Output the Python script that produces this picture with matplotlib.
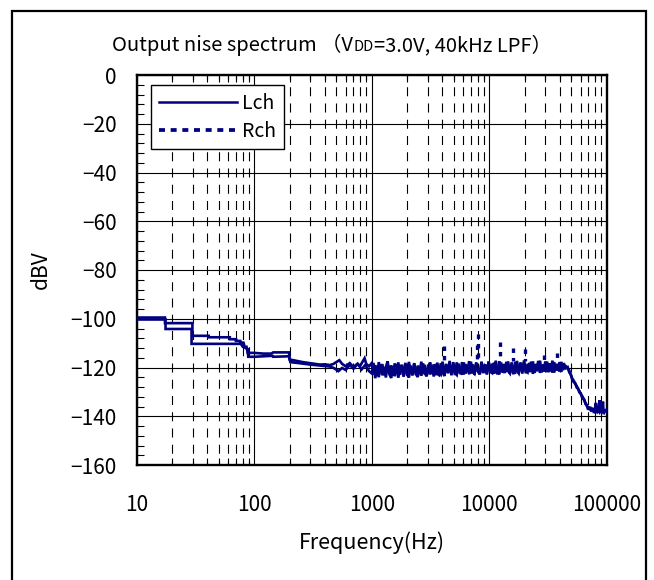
import numpy as np
import matplotlib
matplotlib.use("Agg")
import matplotlib.pyplot as plt
from matplotlib.lines import Line2D
from matplotlib.patches import Rectangle
from matplotlib.ticker import FixedLocator, FixedFormatter, MultipleLocator, NullFormatter

plt.rcParams['font.family'] = ['Noto Sans CJK JP', 'DejaVu Sans']
plt.rcParams['lines.scale_dashes'] = False

NAVY = '#000080'

# ---------------- data ----------------
x_ticks = [10, 100, 1000, 10000, 100000]
x_tick_labels = ['10', '100', '1000', '10000', '100000']
y_ticks = [0, -20, -40, -60, -80, -100, -120, -140, -160]

# Lch, low frequency part (Hz, dBV)
lch_low_f = [10, 17.4, 17.4, 29.8, 29.8, 41, 41, 62, 62, 70, 70, 76, 76, 81, 83, 86, 88, 100,
             120, 140, 145, 198, 200, 215, 244, 260, 298, 330, 362, 400, 440, 470, 506, 530,
             560, 600, 650, 700, 750, 800, 870, 900, 950]
lch_low_db = [-99.5, -99.5, -101.8, -101.8, -107.0, -107.0, -107.6, -107.6, -108.4, -108.4,
              -109.1, -109.1, -109.8, -109.8, -111.5, -111.5, -114.0, -114.0,
              -114.3, -114.3, -113.8, -113.8, -116.7, -117.0, -117.5, -117.8, -118.2, -118.5,
              -118.8, -118.7, -119.0, -118.6, -117.6, -117.0, -118.5, -119.5, -118.2, -119.8,
              -118.6, -119.2, -116.2, -118.6, -119.5]

# Rch, low frequency part
rch_low_f = [10, 17.6, 17.6, 29.3, 29.3, 77, 80, 88, 89, 100, 143, 145, 198, 203, 240, 300,
             360, 440, 480, 520, 560, 600, 650, 700, 760, 820, 880, 950]
rch_low_db = [-100.3, -100.3, -104.2, -104.2, -110.3, -110.3, -111.5, -112.4, -115.6, -115.6,
              -115.2, -115.6, -115.4, -117.8, -118.2, -118.8, -119.2, -119.6, -120.3, -121.5,
              -120.2, -121.0, -119.0, -120.5, -118.5, -120.8, -119.0, -121.5]

# noise floor 1 kHz .. 44 kHz (read as a band of values)
lch_noise_db = [
    -118.2, -122.9, -119.0, -123.6, -117.8, -121.9, -118.6, -123.2, -119.7, -117.5,
    -122.8, -119.1, -123.4, -118.3, -121.7, -117.9, -123.0, -119.5, -122.4, -118.1,
    -123.3, -117.7, -121.5, -122.9, -118.4, -123.1, -119.2, -122.2, -117.6, -122.7,
    -118.9, -123.5, -119.8, -117.9, -122.6, -118.7, -123.2, -118.0, -121.9, -122.8,
    -117.6, -123.0, -118.8, -121.6, -117.3, -122.7, -119.1, -123.1, -117.9, -121.4,
    -122.6, -117.8, -122.9, -118.6, -121.8, -117.4, -122.5, -118.7, -123.0, -117.9,
    -121.6, -122.7, -117.6, -122.3, -118.8, -122.9, -117.7, -121.9, -118.4, -122.6,
    -117.2, -121.8, -122.8, -117.9, -122.2, -118.6, -121.9, -117.5, -122.5, -118.9,
    -122.8, -117.7, -121.4, -122.4, -117.9, -121.8, -117.1, -122.4, -118.5, -121.9,
    -117.6, -122.6, -118.7, -121.5, -117.3, -122.2, -118.9, -121.7, -117.5, -121.9,
    -118.3, -121.6, -117.2, -122.1, -118.5, -121.3, -117.8, -121.8, -118.2, -120.6]
rch_noise_db = [
    -122.4, -118.1, -124.4, -119.3, -124.0, -118.6, -123.2, -119.8, -124.1, -118.4,
    -122.8, -124.3, -119.4, -123.6, -118.7, -124.2, -120.1, -118.9, -123.8, -118.5,
    -123.0, -124.1, -119.2, -123.3, -118.2, -122.7, -123.9, -119.6, -123.4, -118.3,
    -122.4, -123.6, -118.8, -122.9, -119.3, -123.7, -118.6, -122.6, -123.1, -118.2,
    -121.9, -123.5, -118.5, -122.4, -119.0, -123.2, -117.8, -122.1, -123.0, -118.4,
    -121.7, -122.9, -117.9, -122.5, -119.1, -122.8, -117.6, -121.9, -122.6, -118.2,
    -121.5, -122.8, -117.8, -122.2, -118.7, -122.5, -117.5, -121.8, -122.3, -118.0,
    -121.6, -122.7, -117.4, -121.9, -118.6, -122.3, -117.7, -121.4, -122.4, -117.9,
    -121.9, -122.1, -117.3, -121.7, -118.4, -122.5, -117.8, -121.3, -122.0, -118.1,
    -121.8, -117.5, -122.2, -118.5, -121.5, -117.2, -122.0, -118.7, -121.6, -117.6,
    -121.9, -118.3, -122.1, -117.8, -121.2, -118.6, -121.7, -117.7, -121.0, -119.2]
noise_f_start, noise_f_stop = 1000, 44000

# low-pass roll-off
lch_roll_f = [45000, 46500, 48000, 49500, 51000, 52500, 54000, 55500, 57000, 58500, 60000,
              61500, 63000, 64500, 66000, 67500, 69000, 71000, 73000, 75000, 77000, 79000,
              81000, 83000, 85000, 87000, 89000, 91000, 93000, 95000, 97000, 100000]
lch_roll_db = [-119.6, -120.4, -121.2, -123.0, -124.6, -125.4, -126.8, -127.5, -128.9, -129.6,
               -130.8, -131.5, -132.4, -133.6, -134.5, -135.6, -136.2, -137.0, -136.6, -137.6,
               -137.2, -138.1, -137.4, -138.3, -137.6, -138.4, -137.5, -138.2, -137.7, -138.5,
               -137.6, -138.0]
rch_roll_f = [45000, 46500, 48000, 49500, 51000, 52500, 54000, 55500, 57000, 58500, 60000,
              61500, 63000, 64500, 66000, 67500, 69000, 71000, 73000, 75000, 77000, 79000,
              81000, 82000, 85000, 87000, 88000, 91000, 93000, 94000, 97000, 100000]
rch_roll_db = [-120.2, -119.8, -122.0, -122.8, -125.2, -126.0, -126.4, -128.2, -128.5, -130.2,
               -130.5, -132.1, -132.8, -133.2, -135.0, -135.3, -136.8, -136.5, -137.5, -137.0,
               -138.0, -137.3, -134.5, -138.2, -137.0, -133.5, -138.0, -137.4, -134.0, -138.3,
               -137.8, -137.2]

# isolated Rch spurs above the noise floor
spur_f = [4100, 7800, 8100, 12400, 15900, 20000, 29400, 37500]
spur_db = [-111.2, -110.8, -106.3, -109.5, -111.9, -112.4, -114.9, -114.2]
spur_base_db = -117.5

title_parts = ['Output nise spectrum （V', 'DD', '=3.0V, 40kHz LPF）']

# ---------------- figure ----------------
fig = plt.figure(figsize=(6.54, 5.80), dpi=100)
ax = fig.add_axes([136.7 / 654, 1 - 465 / 580, 470 / 654, 390 / 580])

noise_f = np.geomspace(noise_f_start, noise_f_stop, len(lch_noise_db))
lch_f = np.concatenate([lch_low_f, noise_f, lch_roll_f])
lch_db = np.concatenate([lch_low_db, lch_noise_db, lch_roll_db])
rch_f = np.concatenate([rch_low_f, noise_f, rch_roll_f])
rch_db = np.concatenate([rch_low_db, rch_noise_db, rch_roll_db])

ax.plot(rch_f, rch_db, color=NAVY, lw=1.9, solid_joinstyle='miter', zorder=3)
ax.plot(lch_f, lch_db, color=NAVY, lw=1.9, solid_joinstyle='miter', zorder=3)
ax.vlines(spur_f, spur_db, [spur_base_db] * len(spur_f), colors=NAVY, lw=2.4,
          linestyles=[(0, (3.2, 3.6))], zorder=3)

ax.set_xscale('log')
ax.set_xlim(10, 100000)
ax.set_ylim(-160, 0)

ax.xaxis.set_major_locator(FixedLocator(x_ticks))
ax.xaxis.set_major_formatter(FixedFormatter(x_tick_labels))
minor_x = [m * d for d in x_ticks[:-1] for m in range(2, 10)]
ax.xaxis.set_minor_locator(FixedLocator(minor_x))
ax.xaxis.set_minor_formatter(NullFormatter())
ax.yaxis.set_major_locator(FixedLocator(y_ticks))
ax.yaxis.set_minor_locator(MultipleLocator(4))

ax.grid(True, which='major', axis='both', color='black', lw=0.8, ls='-')
ax.grid(True, which='minor', axis='x', color='black', lw=0.8, ls=(3.25, (6.5, 5.2)))
ax.set_axisbelow(True)

ax.tick_params(axis='x', which='both', direction='in', length=0, labelsize=15, pad=21)
ax.tick_params(axis='x', which='minor', top=True, length=5, width=0.8)
ax.tick_params(axis='y', which='major', direction='in', length=0, labelsize=15, pad=14.4)
ax.tick_params(axis='y', which='minor', direction='in', length=5, width=0.8, left=True, right=False)
for s in ax.spines.values():
    s.set_linewidth(1.7)

# legend
h_l = Line2D([], [], color=NAVY, lw=1.8)
h_r = Line2D([], [], color=NAVY, lw=2.7, ls=(0, (4.3, 4.1)))
leg = ax.legend([h_l, h_r], ['Lch', 'Rch'], loc='upper left',
                bbox_to_anchor=((151 - 136.7) / 470, 1 - (85 - 75) / 390),
                borderaxespad=0, fancybox=False, framealpha=1, edgecolor='black',
                fontsize=14, handlelength=4.0, handletextpad=0.3, borderpad=0.4,
                labelspacing=0.35)
leg.get_frame().set_linewidth(1.0)

# axis labels
fig.text(41 / 654, 1 - 270 / 580, 'dBV', rotation=90, ha='center', va='center', fontsize=15)
fig.text(372 / 654, 1 - 543 / 580, 'Frequency(Hz)', ha='center', va='center', fontsize=15.5)

# title with small "DD"
renderer = fig.canvas.get_renderer()
sizes = [14.5, 10.5, 14.5]
texts = []
for s, fs in zip(title_parts, sizes):
    texts.append(fig.text(0, 1 - 51 / 580, s, ha='left', va='baseline', fontsize=fs))
widths = [t.get_window_extent(renderer).width for t in texts]
x_px = 332 - sum(widths) / 2
for t, w in zip(texts, widths):
    t.set_x(x_px / 654)
    x_px += w

# outer frame
fig.patches.append(Rectangle((12 / 654, -0.05), (645.7 - 12) / 654, 1 - 11 / 580 + 0.05,
                             transform=fig.transFigure, fill=False, lw=1.6,
                             edgecolor='black', clip_on=False))

fig.savefig('out.png', dpi=100)
